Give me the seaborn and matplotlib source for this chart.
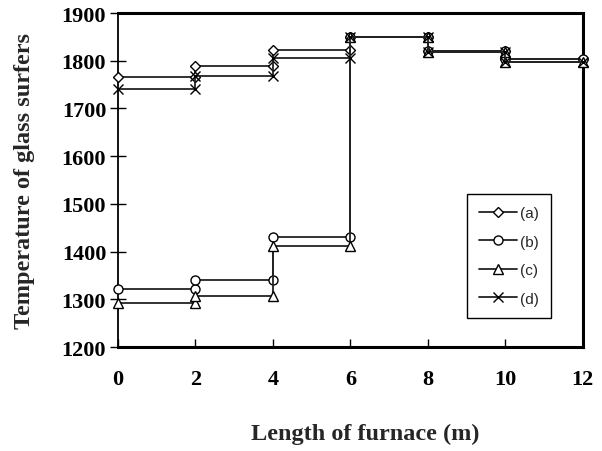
import numpy as np
import pandas as pd
import matplotlib
matplotlib.use("Agg")
import matplotlib.pyplot as plt
import seaborn as sns

# Furnace zone boundaries (m) and step values for each case
boundaries = [0, 2, 4, 6, 8, 10, 12]
series_names = ["(a)", "(b)", "(c)", "(d)"]
vals_a = [1765, 1788, 1822, 1850, 1820, 1803]
vals_b = [1322, 1340, 1430, 1850, 1820, 1803]
vals_c = [1292, 1308, 1412, 1850, 1818, 1797]
vals_d = [1741, 1769, 1805, 1850, 1818, 1797]
series_vals = [vals_a, vals_b, vals_c, vals_d]
marker_list = ["D", "o", "^", "x"]
marker_sizes = [5, 6.5, 6.5, 7]

y_ticks = [1200, 1300, 1400, 1500, 1600, 1700, 1800, 1900]
x_ticks = [0, 2, 4, 6, 8, 10, 12]

rows = []
for name, vals in zip(series_names, series_vals):
    for i, v in enumerate(vals):
        rows.append({"series": name, "x": boundaries[i], "y": v})
        rows.append({"series": name, "x": boundaries[i + 1], "y": v})
df = pd.DataFrame(rows)

sns.set_style("ticks")
fig = plt.figure(figsize=(6.02, 4.52), dpi=100)
ax = fig.add_axes([0.196, 0.230, 0.772, 0.739])

for name, mk, ms in zip(series_names, marker_list, marker_sizes):
    sub = df[df["series"] == name]
    sns.lineplot(data=sub, x="x", y="y", ax=ax, estimator=None, sort=False,
                 color="#222222", linewidth=1.3, marker=mk, markersize=ms,
                 markerfacecolor="white", markeredgecolor="black",
                 markeredgewidth=1.0, label=name, clip_on=False, zorder=3)

ax.set_xlim(0, 12)
ax.set_ylim(1200, 1900)
ax.set_xticks(x_ticks)
ax.set_yticks(y_ticks)

serif = ["Liberation Serif", "DejaVu Serif"]
for lab in ax.get_xticklabels() + ax.get_yticklabels():
    lab.set_fontfamily(serif)
    lab.set_fontweight("bold")
    lab.set_fontsize(16)

ax.tick_params(axis="x", direction="in", length=6, width=1, pad=16, colors="black")
ax.tick_params(axis="y", direction="inout", length=11, width=1, pad=3, colors="black")

for side in ["top", "right", "bottom"]:
    ax.spines[side].set_visible(True)
    ax.spines[side].set_linewidth(2.2)
    ax.spines[side].set_color("black")
ax.spines["left"].set_linewidth(1.3)
ax.spines["left"].set_color("black")

ax.set_xlabel("Length of furnace (m)", fontfamily=serif, fontweight="bold", fontsize=17.5)
ax.set_ylabel("Temperature of glass surfers", fontfamily=serif, fontweight="bold", fontsize=17.5)
ax.xaxis.set_label_coords(0.531, -0.228)
ax.xaxis.label.set_va("top")
ax.yaxis.set_label_coords(-0.178, 0.5)

leg = ax.legend(loc="upper left", bbox_to_anchor=(0.75, 0.458), frameon=True,
                fancybox=False, edgecolor="black", framealpha=1,
                prop={"family": ["Liberation Sans", "DejaVu Sans"], "size": 11},
                handlelength=2.5, labelspacing=0.95, borderpad=0.8,
                handletextpad=0.2, borderaxespad=0)
leg.get_frame().set_linewidth(1.0)

fig.savefig("out.png", dpi=100)
